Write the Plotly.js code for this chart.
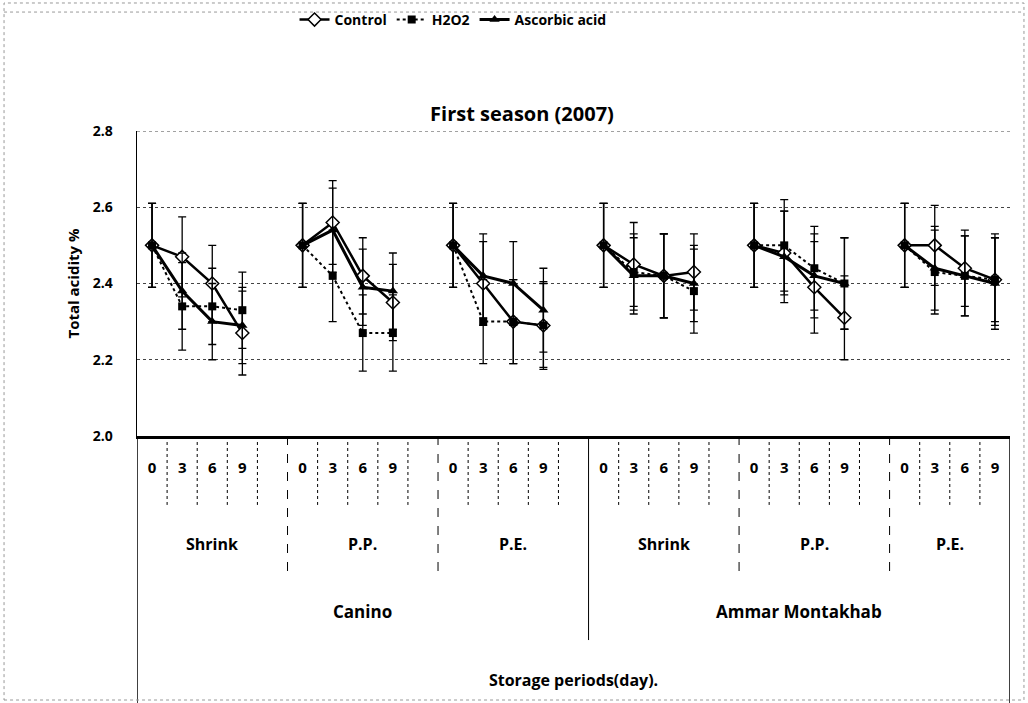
<!DOCTYPE html>
<html>
<head>
<meta charset="utf-8">
<script src="https://cdn.plot.ly/plotly-3.0.1.min.js"></script>
<style>html,body{margin:0;padding:0;background:#fff;}#chart{width:1028px;height:703px;}</style>
</head>
<body>
<div id="chart"></div>
<script>
// ---- data ----
const cultivars = ['Canino', 'Ammar Montakhab'];
const packaging = ['Shrink', 'P.P.', 'P.E.'];
const days = ['0', '3', '6', '9'];
const seriesNames = ['Control', 'H2O2', 'Ascorbic acid'];

// order: Canino Shrink, Canino P.P., Canino P.E., Ammar Shrink, Ammar P.P., Ammar P.E. ; days 0,3,6,9
const control = [2.50, 2.47, 2.40, 2.27,  2.50, 2.56, 2.42, 2.35,  2.50, 2.40, 2.30, 2.29,
                 2.50, 2.45, 2.42, 2.43,  2.50, 2.48, 2.39, 2.31,  2.50, 2.50, 2.44, 2.41];
const h2o2    = [2.50, 2.34, 2.34, 2.33,  2.50, 2.42, 2.27, 2.27,  2.50, 2.30, 2.30, 2.29,
                 2.50, 2.43, 2.42, 2.38,  2.50, 2.50, 2.44, 2.40,  2.50, 2.43, 2.42, 2.41];
const ascorbic= [2.50, 2.38, 2.30, 2.29,  2.50, 2.54, 2.39, 2.38,  2.50, 2.42, 2.40, 2.33,
                 2.50, 2.42, 2.42, 2.40,  2.50, 2.47, 2.42, 2.40,  2.50, 2.44, 2.42, 2.40];

const errControl = [0.11, 0.105, 0.10, 0.11,  0.11, 0.11, 0.10, 0.10,  0.11, 0.11, 0.11, 0.11,
                    0.11, 0.11, 0.11, 0.10,   0.11, 0.11, 0.12, 0.11,  0.11, 0.105, 0.10, 0.11];
const errH2o2    = [0.11, 0.115, 0.10, 0.10,  0.11, 0.12, 0.10, 0.10,  0.11, 0.11, 0.11, 0.115,
                    0.11, 0.10, 0.11, 0.11,   0.11, 0.12, 0.11, 0.12,  0.11, 0.11, 0.105, 0.12];
const errAscorbic= [0.11, 0.10, 0.10, 0.10,   0.11, 0.11, 0.10, 0.10,  0.11, 0.11, 0.11, 0.11,
                    0.11, 0.10, 0.11, 0.10,   0.11, 0.12, 0.11, 0.12,  0.11, 0.11, 0.105, 0.12];

// ---- build category positions (one blank slot between packaging groups) ----
const nGroups = cultivars.length * packaging.length;
const slotsPerGroup = days.length + 1;
const nSlots = nGroups * slotsPerGroup - 1;

function withGaps(arr) {
  const out = [];
  arr.forEach((v, i) => {
    out.push(v);
    if (i % days.length === days.length - 1 && i < arr.length - 1) out.push(null);
  });
  return out;
}
const xs = [];
for (let g = 0; g < nGroups; g++) {
  for (let d = 0; d < days.length; d++) xs.push(g * slotsPerGroup + d);
}
const xGap = withGaps(xs);

const font = '"Open Sans", Lato, sans-serif';

function trace(name, y, err, lineStyle, marker) {
  return {
    type: 'scatter', mode: 'lines+markers', name: name,
    x: xGap, y: withGaps(y), connectgaps: false,
    line: lineStyle, marker: marker,
    error_y: {type: 'data', array: withGaps(err), visible: true, color: '#000', thickness: 1.3, width: 4}
  };
}
const traces = [
  trace(seriesNames[0], control, errControl, {color: '#000', width: 2.5},
        {symbol: 'diamond', size: 10, color: '#fff', line: {color: '#000', width: 1.5}}),
  trace(seriesNames[1], h2o2, errH2o2, {color: '#000', width: 2, dash: 'dot'},
        {symbol: 'square', size: 8, color: '#000'}),
  trace(seriesNames[2], ascorbic, errAscorbic, {color: '#000', width: 3},
        {symbol: 'triangle-up', size: 9, color: '#000'})
];

// ---- dividers and multi-level labels ----
const shapes = [];
const annotations = [];
const Y_DAY = -0.226, Y_PACK = -0.446, Y_CULT = -0.669, Y_BOTTOM = -0.875;
function vline(x, y1, dash, width) {
  shapes.push({type: 'line', xref: 'x', yref: 'paper', x0: x, x1: x, y0: 0, y1: y1,
               line: {color: '#000', width: width, dash: dash}});
}
for (let g = 0; g < nGroups; g++) {
  const base = g * slotsPerGroup;
  for (let d = 0; d < days.length; d++) {
    const b = base + d + 0.5;
    if (b < nSlots - 0.5) vline(b, Y_DAY, 'dot', 1);
  }
  const end = base + slotsPerGroup - 0.5;
  if (g < nGroups - 1) {
    if ((g + 1) % packaging.length === 0) vline(end, Y_CULT, 'solid', 1);
    else vline(end, Y_PACK, 'dash', 1);
  }
  const start = base - 0.5;
  const stop = Math.min(end, nSlots - 0.5);
  annotations.push({xref: 'x', yref: 'paper', x: (start + stop) / 2, y: -0.354, yanchor: 'middle',
    text: packaging[g % packaging.length], showarrow: false,
    font: {family: font, size: 16, color: '#000', weight: 'bold'}});
}
cultivars.forEach((c, k) => {
  const start = k * packaging.length * slotsPerGroup - 0.5;
  const stop = Math.min((k + 1) * packaging.length * slotsPerGroup - 0.5, nSlots - 0.5);
  annotations.push({xref: 'x', yref: 'paper', x: (start + stop) / 2, y: -0.577, yanchor: 'middle',
    text: c, showarrow: false, font: {family: font, size: 17, color: '#000', weight: 'bold'}});
});
// plot-area borders below the axis
vline(-0.5, Y_BOTTOM, 'solid', 1.5);
vline(nSlots - 0.5, Y_BOTTOM, 'solid', 1.5);
// top gridline at 2.8
shapes.push({type: 'line', xref: 'paper', yref: 'y', x0: 0, x1: 1, y0: 2.8, y1: 2.8,
             line: {color: '#444', width: 1, dash: 'dot'}});
// outer dotted frame of the figure
shapes.push({type: 'rect', xref: 'paper', yref: 'paper', x0: -0.1523, x1: 1.0160, y0: -0.8656, y1: 1.4197,
             line: {color: '#999', width: 1, dash: 'dot'}});
shapes.push({type: 'line', xref: 'paper', yref: 'paper', x0: -0.1523, x1: 1.0160, y0: 1.390, y1: 1.390,
             line: {color: '#999', width: 1, dash: 'dot'}});

const layout = {
  width: 1028, height: 703,
  margin: {l: 137, r: 18, t: 131, b: 267, autoexpand: false},
  paper_bgcolor: '#fff', plot_bgcolor: '#fff',
  font: {family: font, color: '#000'},
  title: {text: 'First season (2007)', x: 0.441, xref: 'paper', y: 0.838, yref: 'container',
          xanchor: 'center', yanchor: 'middle', font: {family: font, size: 20, color: '#000', weight: 'bold'}},
  showlegend: true,
  legend: {orientation: 'h', x: 0.362, y: 1.364, xanchor: 'center', yanchor: 'middle',
           font: {family: font, size: 14, color: '#000', weight: 'bold'}, bgcolor: 'rgba(0,0,0,0)'},
  xaxis: {
    range: [-0.5, nSlots - 0.5], showgrid: false, zeroline: false,
    showline: true, linecolor: '#000', linewidth: 2.5, mirror: false,
    tickmode: 'array', tickvals: xs, ticktext: xs.map((_, i) => days[i % days.length]),
    ticks: '', ticklabelstandoff: 16,
    tickfont: {family: font, size: 15, color: '#000', weight: 'bold'},
    title: {text: 'Storage periods(day).', standoff: 200,
            font: {family: font, size: 16, color: '#000', weight: 'bold'}}
  },
  yaxis: {
    range: [2.0, 2.8], dtick: 0.2, tick0: 2.0, tickformat: '.1f',
    showgrid: true, gridcolor: '#444', griddash: 'dot', gridwidth: 1, zeroline: false,
    showline: true, linecolor: '#000', linewidth: 1.5,
    ticks: '', ticklabelstandoff: 20,
    tickfont: {family: font, size: 14, color: '#000', weight: 'bold'},
    title: {text: 'Total acidity %', standoff: 9,
            font: {family: font, size: 15, color: '#000', weight: 'bold'}}
  },
  shapes: shapes,
  annotations: annotations
};

Plotly.newPlot('chart', traces, layout, {displayModeBar: false, staticPlot: true});
</script>
</body>
</html>
